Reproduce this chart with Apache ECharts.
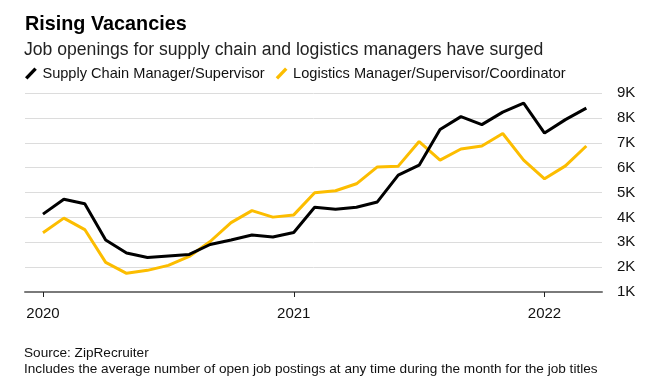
<!DOCTYPE html>
<html>
<head>
<meta charset="utf-8">
<script src="https://cdn.jsdelivr.net/npm/echarts@6/dist/echarts.min.js"></script>
<style>
html,body{margin:0;padding:0;background:#fff;}
#c{width:667px;height:385px;}
</style>
</head>
<body>
<div id="c"></div>
<script>
// Months from Jan 2020 (index 0) to Mar 2022 (index 26)
var months = ['2020-01','2020-02','2020-03','2020-04','2020-05','2020-06','2020-07','2020-08','2020-09','2020-10','2020-11','2020-12',
  '2021-01','2021-02','2021-03','2021-04','2021-05','2021-06','2021-07','2021-08','2021-09','2021-10','2021-11','2021-12',
  '2022-01','2022-02','2022-03'];
var supplyChain = [4130,4730,4550,3090,2570,2390,2450,2510,2910,3090,3290,3210,
  3390,4410,4330,4410,4620,5700,6100,7530,8050,7730,8230,8590,7390,7930,8390];
var logistics = [3380,3970,3510,2190,1750,1870,2070,2430,3030,3790,4270,4010,
  4100,4990,5070,5350,6030,6060,7050,6300,6750,6870,7370,6300,5550,6070,6870];
var yearTicks = [0,12,24];
var yearLabels = ['2020','2021','2022'];

function pairs(arr){ return arr.map(function(v,i){ return [i,v]; }); }

var chart = echarts.init(document.getElementById('c'));
var font = 'Liberation Sans, Arial, Helvetica, sans-serif';
var slash = 'path://M0,10 L9.5,0 L12,2.2 L2.5,12.2 Z';
chart.setOption({
  animation:false,
  textStyle:{fontFamily:font},
  title:[
    {text:'Rising Vacancies', left:20, top:10, textStyle:{fontFamily:font,fontSize:19.8,fontWeight:'bold',color:'#000'}},
    {text:'Job openings for supply chain and logistics managers have surged', left:19, top:36, textStyle:{fontFamily:font,fontSize:17.6,fontWeight:'normal',color:'#222'}},
    {text:'Source: ZipRecruiter\nIncludes the average number of open job postings at any time during the month for the job titles', left:19, top:340,
      textStyle:{fontFamily:font,fontSize:13.6,fontWeight:'normal',color:'#111',lineHeight:16}}
  ],
  legend:{
    left:20, top:61, itemWidth:13, itemHeight:12, itemGap:11,
    icon:slash,
    textStyle:{fontFamily:font,fontSize:14.6,color:'#111'},
    data:['Supply Chain Manager/Supervisor','Logistics Manager/Supervisor/Coordinator']
  },
  grid:{left:25, right:65, top:93, bottom:93, containLabel:false},
  xAxis:{
    type:'value', min:-0.86, max:26.75,
    axisLine:{show:true, lineStyle:{color:'#7a7a7a', width:2}},
    axisTick:{show:true, customValues:yearTicks, length:5, lineStyle:{color:'#222',width:1}},
    axisLabel:{customValues:yearTicks, color:'#111', fontSize:15, margin:14, fontFamily:font,
      formatter:function(v){ var i=yearTicks.indexOf(v); return i>=0?yearLabels[i]:''; }},
    splitLine:{show:false}
  },
  yAxis:{
    type:'value', position:'right', min:1000, max:9000, interval:1000,
    axisLine:{show:false}, axisTick:{show:false},
    axisLabel:{color:'#111', fontSize:15, margin:15, fontFamily:font,
      formatter:function(v){ return (v/1000)+'K'; }},
    splitLine:{lineStyle:{color:'#dcdcdc', width:1}}
  },
  series:[
    {name:'Supply Chain Manager/Supervisor', type:'line', data:pairs(supplyChain), showSymbol:false, symbol:'none',
      lineStyle:{color:'#000', width:3}, itemStyle:{color:'#000'}, z:3},
    {name:'Logistics Manager/Supervisor/Coordinator', type:'line', data:pairs(logistics), showSymbol:false, symbol:'none',
      lineStyle:{color:'#fcbd00', width:3}, itemStyle:{color:'#fcbd00'}, z:2}
  ]
});
</script>
</body>
</html>
